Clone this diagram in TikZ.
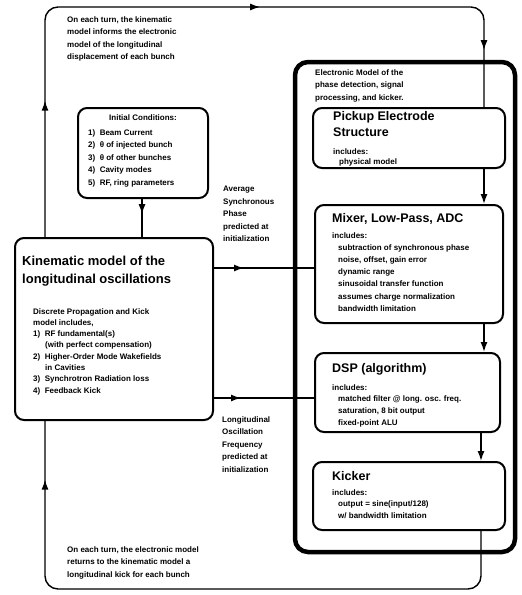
\documentclass[tikz,border=0pt]{standalone}
\usepackage{fontspec}
\setmainfont{Liberation Sans}
\usetikzlibrary{arrows.meta,decorations.markings}
\tikzset{
  box/.style={draw, line width=2pt, rounded corners=9pt, inner sep=0pt},
  bigbox/.style={draw, line width=4.5pt, rounded corners=13pt, inner sep=0pt},
  conn/.style={line width=1.4pt},
  loopline/.style={line width=1.4pt, rounded corners=13pt},
  tip/.style={-{Latex[length=10pt,width=7pt]}},
  midtips/.style={postaction={decorate, decoration={markings, #1}}},
  small/.style={anchor=north west, inner sep=0pt, align=left, font=\bfseries\fontsize{8}{12.5}\selectfont},
  head/.style={anchor=north west, inner sep=0pt, align=left, font=\bfseries\fontsize{12.5}{16}\selectfont},
}
\newcommand{\mytip}{\arrow{Latex[length=10pt,width=7pt]}}
\begin{document}
\begin{tikzpicture}[x=1pt,y=-1pt]
\useasboundingbox (0,0) rectangle (522,595);
% coordinates for columns / rows
\coordinate (lx) at (45,0);
\coordinate (colA) at (484,0);
\coordinate (colB) at (481,0);
\coordinate (icx) at (142,0);
\coordinate (yA) at (0,268);
\coordinate (yB) at (0,398);
\coordinate (topy) at (0,7);
\coordinate (boty) at (0,589);

% boxes
\node[bigbox, minimum width=220pt, minimum height=490pt] (elec) at (405,307) {};
\node[box, minimum width=130pt, minimum height=90pt] (ic) at (143,153) {};
\node[box, minimum width=198pt, minimum height=182pt] (kin) at (114,329) {};
\node[box, minimum width=192pt, minimum height=60pt] (pick) at (409,138) {};
\node[box, minimum width=188pt, minimum height=118pt] (mix) at (409,264) {};
\node[box, minimum width=185pt, minimum height=79pt] (dsp) at (407.5,392.5) {};
\node[box, minimum width=192pt, minimum height=68pt] (kick) at (409,496) {};

% connectors
\draw[conn, midtips={mark=at position 0.4 with {\mytip}}] (ic.south -| icx) -- (kin.north -| icx);
\draw[conn, midtips={mark=at position 0.3 with {\mytip}}] (kin.east |- yA) -- (mix.west |- yA);
\draw[conn, midtips={mark=at position 0.27 with {\mytip}}] (kin.east |- yB) -- (dsp.west |- yB);
\draw[conn, tip] (pick.south -| colA) -- (mix.north -| colA);
\draw[conn, tip] (mix.south -| colA) -- (dsp.north -| colA);
\draw[conn, tip] (dsp.south -| colB) -- (kick.north -| colB);

% top loop
\draw[loopline, midtips={mark=at position 0.18 with {\mytip}, mark=at position 0.58 with {\mytip}, mark=at position 0.925 with {\mytip}}]
  (kin.north -| lx) -- (lx |- topy) -- (colA |- topy) -- (pick.north -| colA);
% bottom loop
\draw[loopline, midtips={mark=at position 0.91 with {\mytip}}]
  (kick.south -| colB) -- (colB |- boty) -- (lx |- boty) -- (kin.south -| lx);

% texts
\node[small] (t1) at (67,16) {On each turn, the kinematic\\model informs the electronic\\model of the longitudinal\\displacement of each bunch};
\node[small] (t2) at (315,69) {Electronic Model of the\\phase detection, signal\\processing, and kicker.};
\node[anchor=north, inner sep=0pt, font=\bfseries\fontsize{8}{12.5}\selectfont] (ich) at (143,114) {Initial Conditions:};
\node[small] (icb) at (88,129) {1)~ Beam Current\\2)~ θ of injected bunch\\3)~ θ of other bunches\\4)~ Cavity modes\\5)~ RF, ring parameters};
\node[small] (avg) at (223,186) {Average\\Synchronous\\Phase\\predicted at\\initialization};
\node[small] (lof) at (222,416) {Longitudinal\\Oscillation\\Frequency\\predicted at\\initialization};
\node[anchor=north west, inner sep=0pt, align=left, font=\bfseries\fontsize{13}{18}\selectfont] (kinh) at (22,256) {Kinematic model of the\\longitudinal oscillations};
\node[anchor=north west, inner sep=0pt, align=left, font=\bfseries\fontsize{8}{11.3}\selectfont] (kinb) at (33,308) {Discrete Propagation and Kick\\model includes,\\1)~ RF fundamental(s)\\\hspace*{12pt}(with perfect compensation)\\2)~ Higher-Order Mode Wakefields\\\hspace*{12pt}in Cavities\\3)~ Synchrotron Radiation loss\\4)~ Feedback Kick};
\node[small] (bot) at (67,546) {On each turn, the electronic model\\returns to the kinematic model a\\longitudinal kick for each bunch};

\node[head] (pickh) at (333,111) {Pickup Electrode\\Structure};
\node[anchor=north west, inner sep=0pt, align=left, font=\bfseries\fontsize{8}{10.5}\selectfont] (pickb) at (333,148) {includes:\\\hspace*{6pt}physical model};

\node[head] (mixh) at (332,213) {Mixer, Low-Pass, ADC};
\node[anchor=north west, inner sep=0pt, align=left, font=\bfseries\fontsize{8}{12.2}\selectfont] (mixb) at (332,232) {includes:\\\hspace*{6pt}subtraction of synchronous phase\\\hspace*{6pt}noise, offset, gain error\\\hspace*{6pt}dynamic range\\\hspace*{6pt}sinusoidal transfer function\\\hspace*{6pt}assumes charge normalization\\\hspace*{6pt}bandwidth limitation};

\node[head] (dsph) at (332,363) {DSP (algorithm)};
\node[anchor=north west, inner sep=0pt, align=left, font=\bfseries\fontsize{8}{11.7}\selectfont] (dspb) at (332,384) {includes:\\\hspace*{6pt}matched filter @ long. osc. freq.\\\hspace*{6pt}saturation, 8 bit output\\\hspace*{6pt}fixed-point ALU};

\node[head] (kickh) at (332,471) {Kicker};
\node[anchor=north west, inner sep=0pt, align=left, font=\bfseries\fontsize{8}{11.7}\selectfont] (kickb) at (332,489) {includes:\\\hspace*{6pt}output = sine(input/128)\\\hspace*{6pt}w/ bandwidth limitation};
\end{tikzpicture}
\end{document}
